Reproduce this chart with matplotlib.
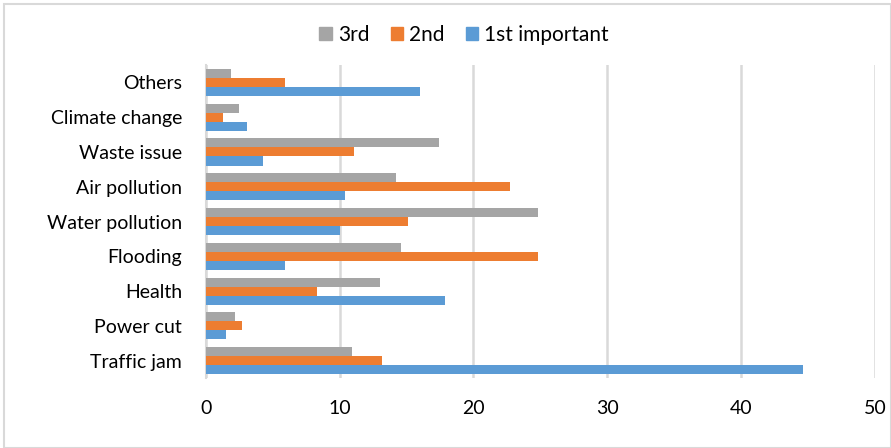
import matplotlib.pyplot as plt
import matplotlib.patches as mpatches
import numpy as np

plt.rcParams['font.family'] = ['Lato', 'DejaVu Sans']

# issues listed bottom to top
categories = ['Traffic jam', 'Power cut', 'Health', 'Flooding', 'Water pollution',
              'Air pollution', 'Waste issue', 'Climate change', 'Others']
first = [44.6, 1.5, 17.9, 5.9, 10.0, 10.4, 4.3, 3.1, 16.0]
second = [13.2, 2.7, 8.3, 24.8, 15.1, 22.7, 11.1, 1.3, 5.9]
third = [10.9, 2.2, 13.0, 14.6, 24.8, 14.2, 17.4, 2.5, 1.9]

blue = '#5B9BD5'
orange = '#ED7D31'
gray = '#A5A5A5'
grid_col = '#D9D9D9'

fig = plt.figure(figsize=(8.91, 4.48), dpi=100)
ax = fig.add_axes([0.231, 0.156, 0.751, 0.699])

y = np.arange(len(categories))
h = 0.26
ax.barh(y - h, first, height=h, color=blue, label='1st important', zorder=3)
ax.barh(y, second, height=h, color=orange, label='2nd', zorder=3)
ax.barh(y + h, third, height=h, color=gray, label='3rd', zorder=3)

ax.set_xlim(0, 50)
ax.set_ylim(-0.5, len(categories) - 0.5)
ax.set_xticks(range(0, 51, 10))
ax.set_yticks(y)
ax.set_yticklabels(categories)
ax.xaxis.grid(True, color=grid_col, linewidth=1.8, zorder=0)
ax.tick_params(axis='both', length=0, labelsize=14, colors='#000000')
ax.tick_params(axis='x', pad=16)
ax.tick_params(axis='y', pad=17)
for side in ['top', 'right', 'bottom']:
    ax.spines[side].set_visible(False)
ax.spines['left'].set_color(grid_col)
ax.spines['left'].set_linewidth(1.5)

handles = [mpatches.Patch(color=gray, label='3rd'),
           mpatches.Patch(color=orange, label='2nd'),
           mpatches.Patch(color=blue, label='1st important')]
fig.legend(handles=handles, loc='center', bbox_to_anchor=(0.521, 0.922), ncol=3,
           frameon=False, fontsize=15, handlelength=0.6, handleheight=0.6,
           handletextpad=0.3, columnspacing=1.0)

# chart frame
fig.add_artist(mpatches.Rectangle((0.005, 0.0), 0.995, 0.99, transform=fig.transFigure,
                                  fill=False, edgecolor=grid_col, linewidth=1.5))

fig.savefig('out.png', dpi=100)
